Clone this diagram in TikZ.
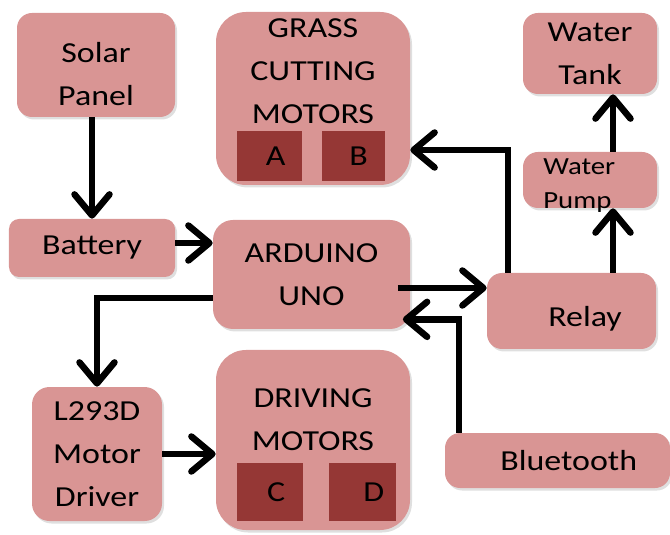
\documentclass[tikz,border=0pt]{standalone}
\usepackage{fontspec}
\setmainfont{Carlito}[FakeStretch=1.17]
\usepackage{tikz}
\usetikzlibrary{arrows.meta,positioning,shadows}

\definecolor{boxpink}{HTML}{D99594}
\definecolor{motorred}{HTML}{953735}

\begin{document}
\begin{tikzpicture}[font=\fontsize{16.5}{24.5}\selectfont,
  blk/.style={fill=boxpink,rounded corners=0.3cm,align=center,inner sep=0pt,
    drop shadow={opacity=0.25,shadow xshift=0.04cm,shadow yshift=-0.05cm}},
  bigblk/.style={blk,rounded corners=0.6cm},
  motor/.style={fill=motorred,inner sep=0pt,minimum width=1.3cm,minimum height=1cm},
  arr/.style={line width=3.7pt,-{Straight Barb[round,length=4.2mm,width=7mm]}}]
  \useasboundingbox (0,0) rectangle (13.4,10.68);
  % power
  \node[blk,minimum width=3.16cm,minimum height=2.08cm] (solar) at (1.92,9.38) {};
  \node[align=center] (solartxt) at (1.92,9.2) {Solar\\Panel};
  \node[blk,rounded corners=0.2cm,minimum width=3.32cm,minimum height=1.16cm] (battery) at (1.84,5.72) {Battery};
  % controller
  \node[blk,rounded corners=0.4cm,minimum width=3.94cm,minimum height=2.18cm] (ard) at (6.23,5.19) {ARDUINO\\UNO};
  \node[blk,minimum width=4.5cm,minimum height=1.1cm] (bt) at (11.15,1.47) {\hspace*{0.45cm}Bluetooth};
  \node[blk,minimum width=3.38cm,minimum height=1.52cm] (relay) at (11.43,4.46) {};
  \node (relaytxt) at (11.7,4.31) {Relay};
  % grass cutting
  \node[bigblk,minimum width=3.88cm,minimum height=3.46cm] (grass) at (6.26,8.71) {};
  \node[align=center] (grasstxt) at (6.26,9.26) {GRASS\\CUTTING\\MOTORS};
  \node[motor] (ma) at (5.39,7.55) {\hspace*{0.25cm}A};
  \node[motor,minimum width=1.26cm] (mb) at (7.07,7.55) {\hspace*{0.2cm}B};
  % water
  \node[blk,minimum width=2.68cm,minimum height=1.62cm] (tank) at (11.8,9.61) {Water\\Tank};
  \node[blk,minimum width=2.68cm,minimum height=1.12cm] (pump) at (11.8,7.08) {};
  \node[anchor=west,align=left,inner sep=0pt,font=\fontsize{14}{19.8}\selectfont] (pumptxt) at (10.86,6.97) {Water\\Pump};
  % driving
  \node[blk,rounded corners=0.35cm,minimum width=2.6cm,minimum height=2.68cm] (l293) at (1.94,1.6) {L293D\\Motor\\Driver};
  \node[bigblk,minimum width=3.88cm,minimum height=3.6cm] (drive) at (6.26,1.88) {};
  \node[align=center] (drivetxt) at (6.26,2.28) {DRIVING\\MOTORS};
  \node[motor,minimum width=1.32cm,minimum height=1.16cm] (mc) at (5.4,0.84) {\hspace*{0.25cm}C};
  \node[motor,minimum width=1.34cm,minimum height=1.16cm] (md) at (7.25,0.84) {\hspace*{0.45cm}D};
  % arrows
  \draw[arr] (battery.north |- solar.south) -- (battery.north);
  \draw[arr] ([yshift=0.1cm]battery.east) -- ([yshift=0.1cm]battery.east -| ard.west);
  \draw[arr] ([yshift=-0.47cm]ard.west) -| (l293.north);
  \draw[arr] (l293.east) -- (l293.east -| drive.west);
  \draw[arr] ([shift={(-0.25,-0.27)}]ard.east) -- ([yshift=-0.27cm]ard.east -| relay.west);
  \draw[arr] ([xshift=-1.97cm]bt.north) |- ([shift={(-0.15,0.2)}]ard.south east);
  \draw[arr] ([xshift=-1.27cm]relay.north) |- ([yshift=-1.03cm]grass.east);
  \draw[arr] ([xshift=0.83cm]relay.north) -- ([xshift=0.83cm]relay.north |- pump.south);
  \draw[arr] ([xshift=0.46cm]pump.north) -- ([xshift=0.46cm]pump.north |- tank.south);
\end{tikzpicture}
\end{document}
